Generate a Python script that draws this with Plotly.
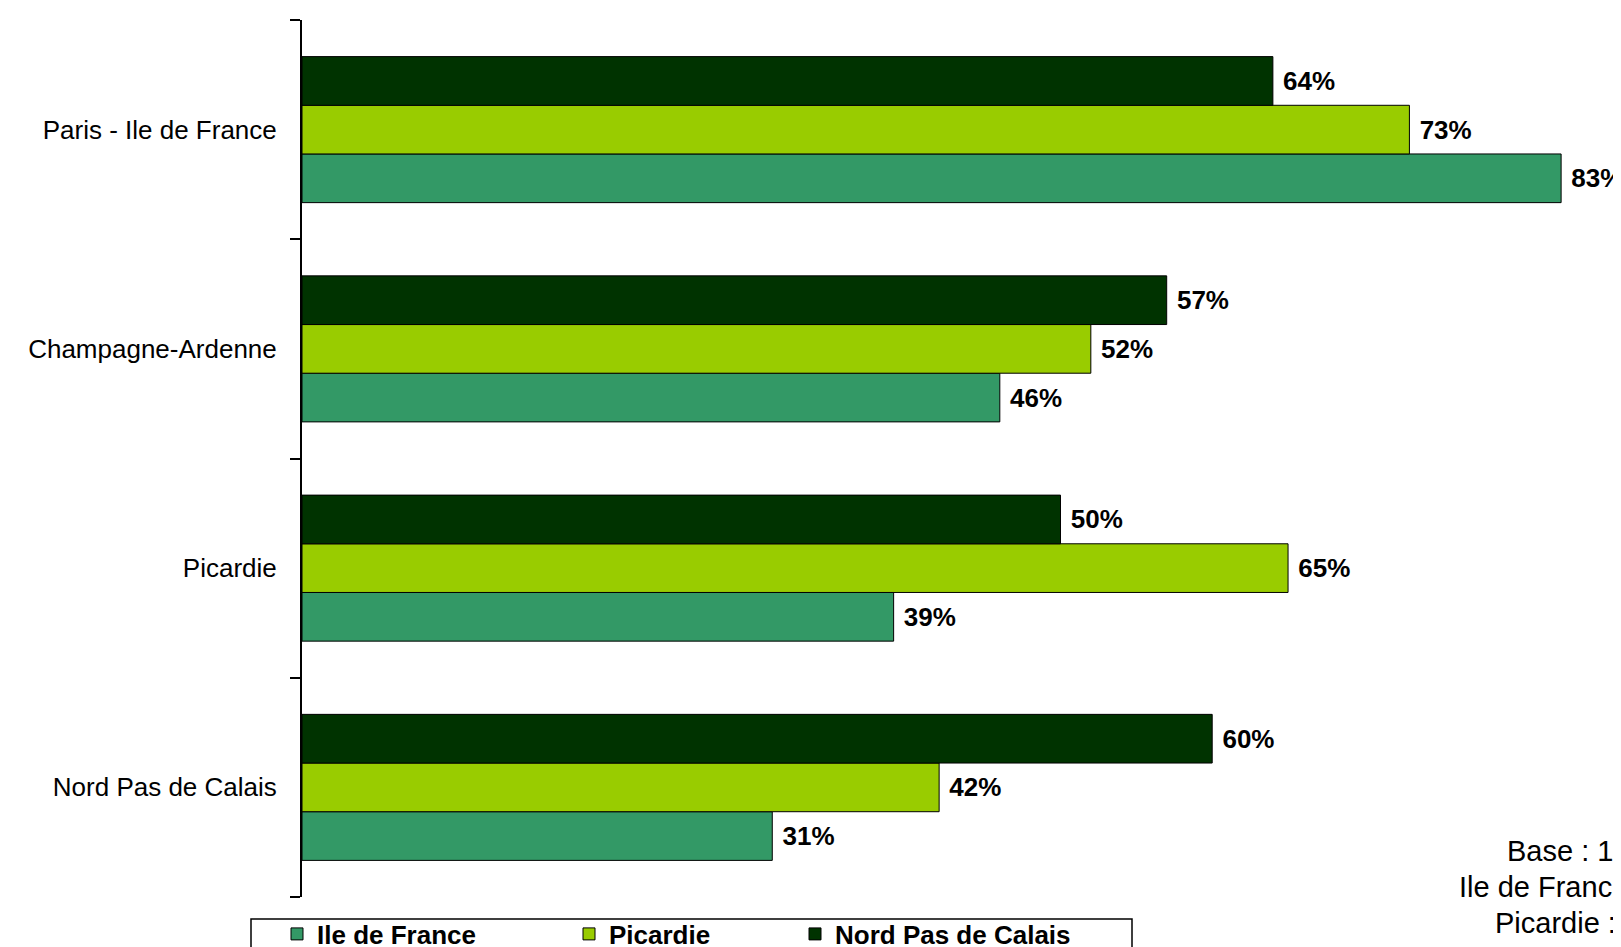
import plotly.graph_objects as go

categories = ["Nord Pas de Calais", "Picardie", "Champagne-Ardenne", "Paris - Ile de France"]
series_names = ["Ile de France", "Picardie", "Nord Pas de Calais"]
ile_de_france = [31, 39, 46, 83]
picardie = [42, 65, 52, 73]
nord_pas_de_calais = [60, 50, 57, 64]
series_values = [ile_de_france, picardie, nord_pas_de_calais]
colors = ["#339966", "#99CC00", "#003300"]

note_lines = ["Base : 19", "Ile de Franc", "Picardie :", "Nord Pas de C"]

FONT = "Liberation Sans, Arial, sans-serif"
W, H = 1621, 947
ML, MR, MT, MB = 294, 0, 12, 58
PW = W - ML - MR
PH = H - MT - MB


def px_x(px):
    return (px - ML) / PW


def px_y(py):
    return (H - MB - py) / PH


fig = go.Figure()
legend_ids = ["legend", "legend2", "legend3"]
for name, vals, col, lg in zip(series_names, series_values, colors, legend_ids):
    fig.add_trace(go.Bar(
        y=categories, x=vals, name=name, orientation="h",
        marker=dict(color=col, line=dict(color="black", width=1)),
        text=[f"\u00a0{v}%" for v in vals], textposition="outside",
        textfont=dict(family=FONT, size=26, color="black", weight="bold"),
        cliponaxis=False, legend=lg, hoverinfo="x+y+name",
    ))

legend_common = dict(
    orientation="h", bgcolor="rgba(0,0,0,0)", borderwidth=0,
    font=dict(family=FONT, size=26, color="black", weight="bold"),
    xanchor="left", yanchor="middle", y=px_y(926),
)
sym_centers = [300, 592, 818]

layout_legends = {}
for lg, cx in zip(legend_ids, sym_centers):
    layout_legends[lg] = dict(legend_common, x=px_x(cx - 31))

fig.update_layout(
    width=W, height=H,
    margin=dict(l=ML, r=MR, t=MT, b=MB, autoexpand=False),
    paper_bgcolor="white", plot_bgcolor="white",
    barmode="group", bargap=0.334, bargroupgap=0,
    showlegend=True,
    font=dict(family=FONT, size=26, color="black"),
    xaxis=dict(visible=False, range=[0, PW / 15.17], fixedrange=True),
    yaxis=dict(
        type="category", categoryorder="array", categoryarray=categories,
        showline=True, linecolor="black", linewidth=2,
        ticks="outside", tickson="boundaries", ticklen=10, tickwidth=1.5, tickcolor="black",
        tickfont=dict(family=FONT, size=26, color="black"),
        ticklabelstandoff=18, showgrid=False, zeroline=False,
    ),
    **layout_legends,
)

# legend frame
fig.add_shape(type="rect", xref="paper", yref="paper",
              x0=px_x(243), x1=px_x(1124), y0=px_y(911), y1=px_y(1000),
              line=dict(color="black", width=1.5), fillcolor="rgba(0,0,0,0)")

# base note (cut off at the right edge in the original)
note_x = [1497, 1449, 1485, 1405]
note_y = [843, 879, 915, 952]
for txt, nx, ny in zip(note_lines, note_x, note_y):
    fig.add_annotation(text=txt, xref="paper", yref="paper", x=px_x(nx), y=px_y(ny),
                       xanchor="left", yanchor="middle", showarrow=False,
                       font=dict(family=FONT, size=29, color="black"))

fig.write_html("out.html")
